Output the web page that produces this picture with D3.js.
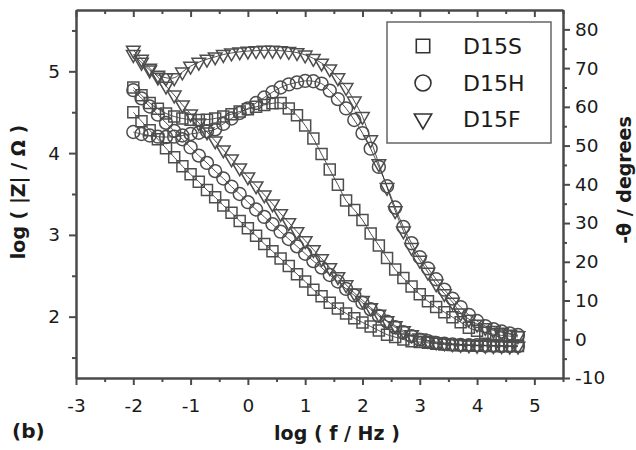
<!DOCTYPE html>
<html>
<head>
<meta charset="utf-8">
<script src="https://cdn.jsdelivr.net/npm/d3@7"></script>
<style>
  body { margin: 0; background: #fff; }
  svg { display: block; }
  text { font-family: "DejaVu Sans", "Liberation Sans", Arial, sans-serif; fill: #1a1a1a; }
</style>
</head>
<body>
<svg id="chart" width="636" height="450"></svg>
<script>
// Bode data: log frequency, log|Z| (left axis) and -phase (right axis)
const logF = [-2.000,-1.857,-1.714,-1.571,-1.429,-1.286,-1.143,-1.000,-0.857,-0.714,
              -0.571,-0.429,-0.286,-0.143,0.000,0.143,0.286,0.429,0.571,0.714,
              0.857,1.000,1.143,1.286,1.429,1.571,1.714,1.857,2.000,2.143,
              2.286,2.429,2.571,2.714,2.857,3.000,3.143,3.286,3.429,3.571,
              3.714,3.857,4.000,4.143,4.286,4.429,4.571,4.714];

const logZ_D15S = [4.50,4.39,4.28,4.17,4.06,3.95,3.84,3.74,3.65,3.55,
                   3.46,3.36,3.27,3.17,3.08,2.99,2.89,2.80,2.71,2.62,
                   2.52,2.43,2.33,2.25,2.17,2.10,2.04,1.98,1.93,1.88,
                   1.83,1.78,1.75,1.72,1.70,1.69,1.68,1.67,1.66,1.655,
                   1.65,1.65,1.645,1.645,1.64,1.64,1.64,1.64];
const logZ_D15H = [4.77,4.67,4.57,4.47,4.37,4.27,4.17,4.07,3.97,3.88,
                   3.78,3.69,3.59,3.50,3.40,3.31,3.22,3.13,3.04,2.95,
                   2.86,2.77,2.68,2.60,2.51,2.43,2.34,2.26,2.17,2.09,
                   2.01,1.94,1.87,1.81,1.76,1.72,1.70,1.68,1.67,1.66,
                   1.655,1.65,1.65,1.645,1.645,1.64,1.64,1.64];
const logZ_D15F = [5.26,5.15,5.04,4.93,4.82,4.71,4.59,4.48,4.37,4.26,
                   4.15,4.04,3.93,3.82,3.71,3.60,3.49,3.38,3.26,3.15,
                   3.04,2.93,2.82,2.71,2.60,2.49,2.39,2.29,2.20,2.11,
                   2.03,1.95,1.89,1.83,1.78,1.74,1.71,1.69,1.68,1.67,
                   1.66,1.655,1.65,1.65,1.645,1.645,1.64,1.64];

const phase_D15S = [65.0,63.0,61.0,59.5,58.3,57.5,57.0,56.7,56.6,56.7,
                    57.0,57.5,58.1,58.8,59.4,60.0,60.5,60.9,61.0,59.6,
                    57.8,55.2,51.8,47.8,43.8,39.9,35.8,33.4,30.8,27.3,
                    24.2,21.0,18.0,15.8,13.6,11.6,9.8,8.3,7.0,5.7,
                    4.4,3.0,2.2,1.7,1.3,1.0,0.8,0.6];
const phase_D15H = [53.5,53.0,52.6,52.3,52.2,52.3,52.6,53.0,53.3,53.7,
                    54.2,55.6,57.0,58.4,59.6,61.0,62.4,63.8,65.0,65.8,
                    66.3,66.7,66.6,66.0,64.2,62.0,59.6,56.6,53.2,49.2,
                    44.5,39.5,34.0,29.0,24.8,21.2,18.3,15.5,12.8,10.5,
                    8.3,6.3,4.7,3.4,2.6,2.0,1.5,1.1];
const phase_D15F = [73.5,71.5,69.5,68.2,67.5,67.5,69.0,70.5,71.5,72.3,
                    72.9,73.5,73.9,74.2,74.4,74.5,74.6,74.6,74.5,74.3,
                    74.0,73.4,72.5,71.3,69.8,67.5,65.0,61.5,57.5,51.5,
                    45.3,39.2,33.2,28.0,23.7,20.4,17.3,14.3,11.8,9.6,
                    6.8,5.2,3.9,3.0,2.3,1.8,1.3,0.9];

const seriesNames = ["D15S", "D15H", "D15F"];
const seriesShapes = ["square", "circle", "triangle"];

// Axis ticks and labels
const xMajor = [-3,-2,-1,0,1,2,3,4,5];
const xMajorLabels = ["-3","-2","-1","0","1","2","3","4","5"];
const xMinor = [-2.5,-1.5,-0.5,0.5,1.5,2.5,3.5,4.5,5.5];
const yLMajor = [2,3,4,5];
const yLMajorLabels = ["2","3","4","5"];
const yLMinor = [1.5,2.5,3.5,4.5,5.5];
const yRMajor = [-10,0,10,20,30,40,50,60,70,80];
const yRMajorLabels = ["-10","0","10","20","30","40","50","60","70","80"];
const yRMinor = [-5,5,15,25,35,45,55,65,75];

const xTitle = "log ( f / Hz )";
const yLTitle = "log ( |Z| / \u03A9 )";
const yRTitle = "-\u03B8 / degrees";
const panelLabel = "(b)";

// Layout
const plot = { left: 76, right: 563, top: 10, bottom: 378 };
const axisColor = "#4a4a4a";
const markColor = "#4d4d4d";

const svg = d3.select("#chart");

const x = d3.scaleLinear().domain([-3, 5.5]).range([plot.left, plot.right]);
const yL = d3.scaleLinear().domain([1.25, 5.75]).range([plot.bottom, plot.top]);
const yR = d3.scaleLinear().domain([-10, 85]).range([plot.bottom, plot.top]);

// Marker generators
const symbolFor = {
  square: d3.symbol().type(d3.symbolSquare).size(121),
  circle: d3.symbol().type(d3.symbolCircle).size(130),
  triangle: d3.symbol().type(d3.symbolTriangle).size(80)
};
const rotFor = { square: 0, circle: 0, triangle: 180 };

// Data series: |Z| and phase for each sample
const zSets = [logZ_D15S, logZ_D15H, logZ_D15F];
const pSets = [phase_D15S, phase_D15H, phase_D15F];

const seriesList = [];
seriesNames.forEach((name, i) => {
  seriesList.push({ name, shape: seriesShapes[i], y: yL, vals: zSets[i] });
  seriesList.push({ name, shape: seriesShapes[i], y: yR, vals: pSets[i] });
});

// Thin fit curves under the markers
const fitLayer = svg.append("g");
seriesList.forEach(s => {
  const line = d3.line()
    .x((d, j) => x(logF[j]))
    .y(d => s.y(d))
    .curve(d3.curveCatmullRom.alpha(0.5));
  fitLayer.append("path")
    .attr("d", line(s.vals))
    .attr("fill", "none")
    .attr("stroke", "#222")
    .attr("stroke-width", 0.8);
});

// Open markers
const markLayer = svg.append("g");
seriesList.forEach(s => {
  markLayer.append("g").selectAll("path")
    .data(s.vals)
    .join("path")
    .attr("d", symbolFor[s.shape])
    .attr("transform", (d, j) => `translate(${x(logF[j])},${s.y(d)}) rotate(${rotFor[s.shape]})`)
    .attr("fill", "none")
    .attr("stroke", markColor)
    .attr("stroke-width", 1.5);
});

// Axes
function styleAxis(g) {
  g.selectAll(".domain").attr("stroke", axisColor).attr("stroke-width", 2);
  g.selectAll(".tick line").attr("stroke", axisColor).attr("stroke-width", 2);
  g.selectAll("text").attr("font-size", 18.5).attr("font-family", "DejaVu Sans").attr("fill", "#1a1a1a");
}

const gx = svg.append("g").attr("transform", `translate(0,${plot.bottom})`)
  .call(d3.axisBottom(x).tickValues(xMajor).tickSize(7).tickSizeOuter(0).tickPadding(14)
    .tickFormat((d, i) => xMajorLabels[i]));
styleAxis(gx);
svg.append("g").attr("transform", `translate(0,${plot.bottom})`)
  .call(d3.axisBottom(x).tickValues(xMinor).tickSize(4).tickSizeOuter(0).tickFormat(""))
  .call(styleAxis);

svg.append("g").attr("transform", `translate(0,${plot.top})`)
  .call(d3.axisTop(x).tickValues(xMajor).tickSize(-7).tickSizeOuter(0).tickFormat(""))
  .call(styleAxis);
svg.append("g").attr("transform", `translate(0,${plot.top})`)
  .call(d3.axisTop(x).tickValues(xMinor).tickSize(-4).tickSizeOuter(0).tickFormat(""))
  .call(styleAxis);

const gyl = svg.append("g").attr("transform", `translate(${plot.left},0)`)
  .call(d3.axisLeft(yL).tickValues(yLMajor).tickSize(7).tickSizeOuter(0).tickPadding(9)
    .tickFormat((d, i) => yLMajorLabels[i]));
styleAxis(gyl);
svg.append("g").attr("transform", `translate(${plot.left},0)`)
  .call(d3.axisLeft(yL).tickValues(yLMinor).tickSize(4).tickSizeOuter(0).tickFormat(""))
  .call(styleAxis);

const gyr = svg.append("g").attr("transform", `translate(${plot.right},0)`)
  .call(d3.axisRight(yR).tickValues(yRMajor).tickSize(7).tickSizeOuter(0).tickPadding(5)
    .tickFormat((d, i) => yRMajorLabels[i]));
styleAxis(gyr);
svg.append("g").attr("transform", `translate(${plot.right},0)`)
  .call(d3.axisRight(yR).tickValues(yRMinor).tickSize(4).tickSizeOuter(0).tickFormat(""))
  .call(styleAxis);

// Axis titles
svg.append("text")
  .attr("x", 337).attr("y", 440)
  .attr("text-anchor", "middle")
  .attr("font-size", 19).attr("font-weight", "bold")
  .text(xTitle);

svg.append("text")
  .attr("transform", `translate(25,192) rotate(-90)`)
  .attr("text-anchor", "middle")
  .attr("font-size", 19).attr("font-weight", "bold")
  .text(yLTitle);

svg.append("text")
  .attr("transform", `translate(631,180) rotate(-90)`)
  .attr("text-anchor", "middle")
  .attr("font-size", 19).attr("font-weight", "bold")
  .text(yRTitle);

svg.append("text")
  .attr("x", 12).attr("y", 438)
  .attr("font-size", 20).attr("font-weight", "bold")
  .text(panelLabel);

// Legend
const legend = svg.append("g");
legend.append("rect")
  .attr("x", 387).attr("y", 22).attr("width", 164).attr("height", 121)
  .attr("fill", "#fff").attr("stroke", "#666").attr("stroke-width", 1.5);

const legendSymbols = {
  square: d3.symbol().type(d3.symbolSquare).size(180),
  circle: d3.symbol().type(d3.symbolCircle).size(200),
  triangle: d3.symbol().type(d3.symbolTriangle).size(130)
};
const legendRows = [46, 83, 119];
seriesNames.forEach((name, i) => {
  const shape = seriesShapes[i];
  legend.append("path")
    .attr("d", legendSymbols[shape]())
    .attr("transform", `translate(423,${legendRows[i]}) rotate(${rotFor[shape]})`)
    .attr("fill", "none").attr("stroke", "#333").attr("stroke-width", 1.6);
  legend.append("text")
    .attr("x", 463).attr("y", legendRows[i])
    .attr("dy", "0.36em")
    .attr("font-size", 22)
    .text(name);
});
</script>
</body>
</html>
